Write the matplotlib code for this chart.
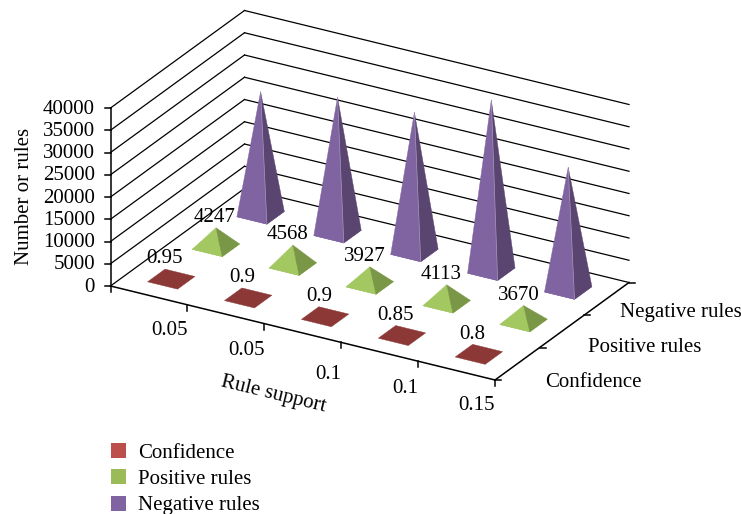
import numpy as np
import matplotlib
matplotlib.use("Agg")
import matplotlib.pyplot as plt
from matplotlib.patches import Polygon, Patch

plt.rcParams['font.family'] = ['Liberation Serif', 'DejaVu Serif']

# ---- data ----
support_labels = ['0.05', '0.05', '0.1', '0.1', '0.15']
series_names = ['Confidence', 'Positive rules', 'Negative rules']
confidence = [0.95, 0.9, 0.9, 0.85, 0.8]
positive_rules = [4247, 4568, 3927, 4113, 3670]
negative_rules = [27500, 30500, 31350, 38300, 27400]
z_ticks = [0, 5000, 10000, 15000, 20000, 25000, 30000, 35000, 40000]
z_max = 40000

# ---- style ----
FONT = 15
LEGEND_COLORS = ['#BC4F4C', '#9BBB59', '#8064A2']
FRONT_COLORS = ['#8B3836', '#A3C862', '#8064A2']
SIDE_COLORS = ['#8B3836', '#7A9647', '#5A4570']
SEAM_COLORS = [None, None, '#A99BC0']
BASE_FRAC = 0.39
LW = 0.9
TEXT_DY = 1.7

# ---- oblique projection of the chart box onto the page ----
ORIGIN = np.array([110.5, 286.0])
X_VEC = np.array([384.5, 94.0])
Y_VEC = np.array([134.0, -97.5])
Z_VEC = np.array([0.0, -178.0])
n_cat, n_ser = len(support_labels), len(series_names)


def project(cat, ser, z=0.0):
    """cat in category units, ser in series units, z in value units."""
    return ORIGIN + X_VEC * cat / n_cat + Y_VEC * ser / n_ser + Z_VEC * z / z_max


fig = plt.figure(figsize=(7.41, 5.14), dpi=100, facecolor='white')
ax = fig.add_axes([0, 0, 1, 1])
ax.set_xlim(0, 741)
ax.set_ylim(514, 0)
ax.axis('off')


def line(p, q, lw=LW, z=1):
    ax.plot([p[0], q[0]], [p[1], q[1]], color='black', lw=lw, zorder=z,
            solid_capstyle='projecting')


# walls: gridlines
for v in z_ticks:
    line(project(0, 0, v), project(0, n_ser, v))
    line(project(0, n_ser, v), project(n_cat, n_ser, v))
    a = project(0, 0, v)
    line(a, a + [-6, 0], lw=LW + 0.2)
    ax.text(a[0] - 15.5, a[1] - 0.5 + TEXT_DY, f'{v}', ha='right', va='center', fontsize=FONT)

# main axes
line(project(0, 0, 0), project(0, 0, z_max), lw=1.1, z=6)
line(project(0, 0, 0), project(n_cat, 0, 0), lw=1.1, z=6)
line(project(n_cat, 0, 0), project(n_cat, n_ser, 0), lw=1.1, z=6)

# category ticks
for j in range(n_cat + 1):
    a = project(j, 0, 0)
    line(a, a + [0, 6], lw=LW + 0.2, z=6)
# series ticks
for i in range(n_ser + 1):
    a = project(n_cat, i, 0)
    line(a, a + [6, 0], lw=LW + 0.2, z=6)


# pyramids
def pyramid(cat, ser, value, front, side, seam, zo):
    cx, cy = cat + 0.5, ser + 0.5
    h = BASE_FRAC / 2
    A = project(cx - h, cy - h)
    B = project(cx + h, cy - h)
    C = project(cx + h, cy + h)
    D = project(cx - h, cy + h)
    P = project(cx, cy, value)
    ax.add_patch(Polygon((A, B, C, D), closed=True, facecolor=front, edgecolor=front, lw=0.3, zorder=zo))
    if front != side:
        for pts, col in [((A, B, P), front), ((B, C, P), side)]:
            ax.add_patch(Polygon(pts, closed=True, facecolor=col, edgecolor=col, lw=0.3, zorder=zo))
    if seam:
        ax.plot([B[0], P[0]], [B[1], P[1]], color=seam, lw=0.5, zorder=zo)
    return P


series_values = [confidence, positive_rules, negative_rules]
apex = {}
for i in reversed(range(n_ser)):
    for j in range(n_cat):
        apex[(i, j)] = pyramid(j, i, series_values[i][j], FRONT_COLORS[i], SIDE_COLORS[i],
                               SEAM_COLORS[i], 3 + (n_ser - i) * 0.1)

# value labels
for j, v in enumerate(confidence):
    p = apex[(0, j)]
    ax.text(p[0] - 6.3, p[1] - 22 + TEXT_DY, f'{v:g}', ha='center', va='center', fontsize=FONT, zorder=8)
pos_dx = [-1, -5, -5, -6, -5]
for j, v in enumerate(positive_rules):
    p = apex[(1, j)]
    ax.text(p[0] + pos_dx[j], p[1] - 12 + TEXT_DY, f'{v}', ha='center', va='center', fontsize=FONT, zorder=8)

# category labels
x_dy = [24, 25, 30, 26, 24]
for j, s in enumerate(support_labels):
    a = project(j + 1, 0, 0)
    ax.text(a[0], a[1] + x_dy[j] + TEXT_DY, s, ha='right', va='center', fontsize=FONT)

# series labels
ser_pos = [(545, 380.5), (588.5, 345.5), (620, 310.5)]
for (x, y), s in zip(ser_pos, series_names):
    ax.text(x, y + TEXT_DY, s, ha='left', va='center', fontsize=FONT)

# axis titles
ax.text(25, 196, 'Number or rules', rotation=90, ha='center', va='center', fontsize=FONT)
ax.text(273, 394, 'Rule support', rotation=-13.7, rotation_mode='anchor',
        ha='center', va='center', fontsize=FONT)

# legend
handles = [Patch(facecolor=c, edgecolor='none', label=s) for c, s in zip(LEGEND_COLORS, series_names)]
ax.legend(handles=handles, loc='upper left', bbox_to_anchor=(110.5 / 741, 1 - 443 / 514),
          frameon=False, fontsize=FONT, handlelength=0.72, handleheight=0.72,
          handletextpad=0.62, labelspacing=0.32, borderpad=0, borderaxespad=0)

fig.savefig('out.png', dpi=100, facecolor='white')
